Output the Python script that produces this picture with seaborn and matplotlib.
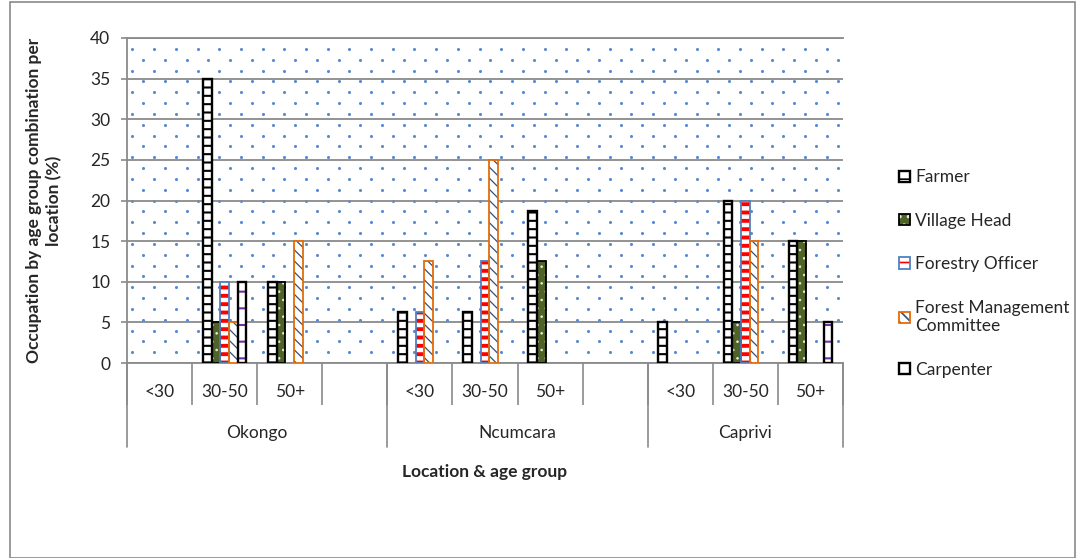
import numpy as np
import pandas as pd
import matplotlib
matplotlib.use("Agg")
import matplotlib.pyplot as plt
from matplotlib.patches import Patch, Rectangle
from matplotlib.legend_handler import HandlerTuple
import seaborn as sns

# Slots along the x axis: three age groups per location, with an empty slot between locations
slot_ages = ["<30", "30-50", "50+", "", "<30", "30-50", "50+", "", "<30", "30-50", "50+"]
slot_locations = ["Okongo"] * 4 + ["Ncumcara"] * 4 + ["Caprivi"] * 3
locations = ["Okongo", "Ncumcara", "Caprivi"]

occupations = ["Farmer", "Village Head", "Forestry Officer",
               "Forest Management\nCommittee", "Carpenter"]

# Percentage of respondents per occupation for each slot
farmer = [0, 35, 10, 0, 6.25, 6.25, 18.75, 0, 5, 20, 15]
village_head = [0, 5, 10, 0, 0, 0, 12.5, 0, 0, 5, 15]
forestry_officer = [0, 10, 0, 0, 6.25, 12.5, 0, 0, 0, 20, 0]
forest_mgmt_committee = [0, 5, 15, 0, 12.5, 25, 0, 0, 0, 15, 0]
carpenter = [0, 10, 0, 0, 0, 0, 0, 0, 0, 0, 5]

series = [farmer, village_head, forestry_officer, forest_mgmt_committee, carpenter]

slot_ids = [f"{loc}:{i}" for i, loc in enumerate(slot_locations)]
rows = []
for occ, vals in zip(occupations, series):
    for sid, v in zip(slot_ids, vals):
        if v > 0:
            rows.append({"slot": sid, "occupation": occ, "value": v})
df = pd.DataFrame(rows)

# Fill / hatch / outline styling per occupation
styles = {
    "Farmer": dict(face="white", hatch="--", hcol="black", edge="black", lw=1.7, hlw=1.5),
    "Village Head": dict(face="#4F6228", hatch="..", hcol="#E8EEDC", edge="black", lw=1.3, hlw=0.6),
    "Forestry Officer": dict(face="white", hatch="--", hcol="#FF0000", edge="#4F81BD", lw=1.3, hlw=2.8),
    "Forest Management\nCommittee": dict(face="white", hatch="\\\\\\", hcol="#34507A", edge="#E46C0A", lw=1.3, hlw=0.9),
    "Carpenter": dict(face="white", hatch="-", hcol="#7030A0", edge="black", lw=1.7, hlw=1.5),
}

sns.set_theme(style="white")
plt.rcParams["font.family"] = ["Lato", "DejaVu Sans"]
plt.rcParams["hatch.linewidth"] = 1.2

FS = 12.5
GRAY = "#8A8A8A"
fig = plt.figure(figsize=(10.78, 5.58), dpi=100)
ax = fig.add_axes([127 / 1078, 1 - 363 / 558, 716 / 1078, 325 / 558])

key_colors = sns.color_palette("tab10", len(occupations))
key_pal = dict(zip(occupations, key_colors))

sns.barplot(data=df, x="slot", y="value", hue="occupation", order=slot_ids,
            hue_order=occupations, palette=key_pal, width=0.67, saturation=1,
            errorbar=None, legend=False, ax=ax, zorder=3)

key_lookup = {tuple(np.round(matplotlib.colors.to_rgb(c), 3)): occ for occ, c in key_pal.items()}
for p in list(ax.patches):
    occ = key_lookup.get(tuple(np.round(p.get_facecolor()[:3], 3)))
    if occ is None:
        continue
    st = styles[occ]
    p.set_facecolor(st["face"])
    p.set_hatch(st["hatch"])
    p.set_edgecolor(st["hcol"])
    p.set_linewidth(0)
    if hasattr(p, "set_hatch_linewidth"):
        p.set_hatch_linewidth(st["hlw"])
    ax.add_patch(Rectangle(p.get_xy(), p.get_width(), p.get_height(), fill=False,
                           edgecolor=st["edge"], linewidth=st["lw"], zorder=4))

# Dotted plot-area texture
nrows, ncols = 30, 33
dx, dy = [], []
for r in range(1, nrows):
    off = 0.25 if r % 2 else 0.75
    xs = (np.arange(ncols) + off) / ncols
    dx.extend(xs)
    dy.extend([r / nrows] * ncols)
ax.scatter(dx, dy, transform=ax.transAxes, s=5, color="#5A8AD0", linewidths=0, zorder=0.4)

ax.set_xlim(-0.5, len(slot_ids) - 0.5)
ax.set_ylim(0, 40)
ax.set_yticks(range(0, 41, 5))
ax.yaxis.grid(True, color=GRAY, linewidth=1.3)
ax.xaxis.grid(False)
ax.set_axisbelow(True)

ax.spines["right"].set_visible(False)
for side in ["left", "bottom", "top"]:
    ax.spines[side].set_color(GRAY)
    ax.spines[side].set_linewidth(1.3)

ax.tick_params(axis="y", length=4, width=1.2, color=GRAY, labelsize=FS, pad=8, left=True)
ax.set_xticks(range(len(slot_ids)))
ax.set_xticklabels(slot_ages, fontsize=FS)
ax.tick_params(axis="x", which="major", length=0, pad=15)
ax.set_xticks(np.arange(-0.5, len(slot_ids), 1), minor=True)
ax.tick_params(axis="x", which="minor", length=30, width=1.2, color=GRAY, bottom=True)

# Location group separators and labels
trans = matplotlib.transforms.blended_transform_factory(ax.transData, ax.transAxes)
idx = np.arange(len(slot_ids))
bounds = set()
for loc in locations:
    pos = idx[np.array(slot_locations) == loc]
    bounds.update([pos.min() - 0.5, pos.max() + 0.5])
    ax.text((pos.min() + pos.max()) / 2, -0.215, loc, transform=trans,
            ha="center", va="center", fontsize=FS)
for b in sorted(bounds):
    ax.plot([b, b], [0, -0.258], transform=trans, color=GRAY, linewidth=1.2,
            clip_on=False)

ax.set_xlabel("Location & age group", fontsize=FS, fontweight="bold")
ax.xaxis.set_label_coords(0.5, -0.31)
ax.set_ylabel("Occupation by age group combination per\nlocation (%)",
              fontsize=FS, fontweight="bold", linespacing=1.3)
ax.yaxis.set_label_coords(-0.09, 0.5)

# Legend with layered fill/hatch and outline
handles = []
for occ in occupations:
    st = styles[occ]
    fill = Patch(facecolor=st["face"], hatch=st["hatch"], edgecolor=st["hcol"], linewidth=0)
    outline = Patch(fill=False, edgecolor=st["edge"], linewidth=st["lw"])
    handles.append((fill, outline))
fig.legend(handles, occupations, handler_map={tuple: HandlerTuple(ndivide=1, pad=0)},
           loc="center left", bbox_to_anchor=(0.834, 0.51), frameon=False,
           fontsize=FS, handlelength=0.62, handleheight=0.62, handletextpad=0.3,
           labelspacing=1.58, borderpad=0, borderaxespad=0)

# Chart frame
fig.patches.append(Rectangle((0.009, 0.0), 0.988, 0.996, transform=fig.transFigure,
                             fill=False, edgecolor=GRAY, linewidth=1.2))

fig.savefig("out.png", dpi=100)
